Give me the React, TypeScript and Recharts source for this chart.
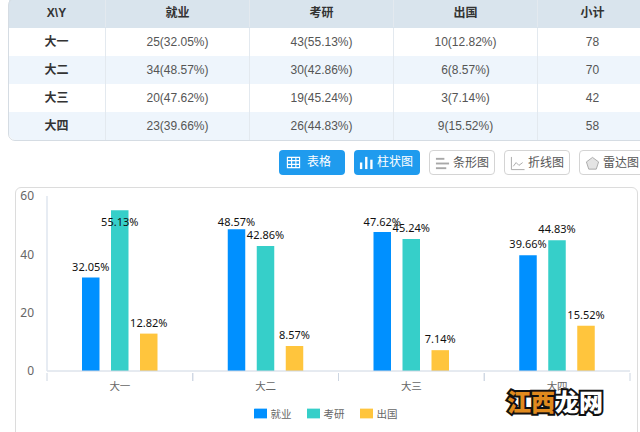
import { Bar, BarChart, LabelList, Legend, XAxis, YAxis } from "recharts";

// 表格和图表的数据
const grades = ["大一", "大二", "大三", "大四"];
const seriesNames = ["就业", "考研", "出国"];
const seriesColors = ["#0090ff", "#36cfc9", "#ffc53d"];
const employCounts = [25, 34, 20, 23];
const employPercents = [32.05, 48.57, 47.62, 39.66];
const studyCounts = [43, 30, 19, 26];
const studyPercents = [55.13, 42.86, 45.24, 44.83];
const abroadCounts = [10, 6, 3, 9];
const abroadPercents = [12.82, 8.57, 7.14, 15.52];
const totals = [78, 70, 42, 58];
const yTicks = [0, 20, 40, 60];
const buttonNames = ["表格", "柱状图", "条形图", "折线图", "雷达图"];

const chartData = grades.map((name, i) => ({
  name,
  employ: employPercents[i],
  study: studyPercents[i],
  abroad: abroadPercents[i],
}));

const font = "'Liberation Sans', 'Noto Sans CJK SC', sans-serif";
const chartFont = "'Noto Sans', 'Noto Sans CJK SC', sans-serif";
const colLefts = [8, 105, 249, 393, 537];
const colWidths = [97, 144, 144, 144, 110];
const rowTops = [28, 56, 84, 112];

function Cell({ left, width, top, height, bold, children }: any) {
  return (
    <div
      style={{
        position: "absolute",
        left,
        width,
        top,
        height,
        lineHeight: height + "px",
        textAlign: "center",
        fontSize: 12,
        fontWeight: bold ? 700 : 400,
        color: bold ? "#333" : "#555",
        borderLeft: left > 8 ? "1px solid #e3e9ef" : "none",
        boxSizing: "border-box",
      }}
    >
      {children}
    </div>
  );
}

function ResultTable() {
  const header = ["X\\Y", ...seriesNames, "小计"];
  return (
    <div>
      <div style={{ position: "absolute", left: 9, top: 0, width: 631, height: 28, background: "#d9e4ed" }} />
      <div style={{ position: "absolute", left: 9, top: 56, width: 631, height: 28, background: "#eef5fc" }} />
      <div style={{ position: "absolute", left: 9, top: 112, width: 631, height: 28, background: "#eef5fc", borderRadius: "0 0 0 7px" }} />
      <div style={{ position: "absolute", left: 8, top: -2, width: 660, height: 143, borderRadius: 7, border: "1px solid #d5dce3", boxSizing: "border-box" }} />
      {header.map((h, c) => (
        <Cell key={h} left={colLefts[c]} width={colWidths[c]} top={0} height={27} bold>
          {h}
        </Cell>
      ))}
      {grades.map((g, i) => (
        <div key={g}>
          <Cell left={colLefts[0]} width={colWidths[0]} top={rowTops[i]} height={28} bold>
            {g}
          </Cell>
          <Cell left={colLefts[1]} width={colWidths[1]} top={rowTops[i]} height={28}>
            {employCounts[i]}({employPercents[i]}%)
          </Cell>
          <Cell left={colLefts[2]} width={colWidths[2]} top={rowTops[i]} height={28}>
            {studyCounts[i]}({studyPercents[i]}%)
          </Cell>
          <Cell left={colLefts[3]} width={colWidths[3]} top={rowTops[i]} height={28}>
            {abroadCounts[i]}({abroadPercents[i]}%)
          </Cell>
          <Cell left={colLefts[4]} width={colWidths[4]} top={rowTops[i]} height={28}>
            {totals[i]}
          </Cell>
        </div>
      ))}
    </div>
  );
}

// 按钮上的小图标
function ButtonIcon({ index, color }: { index: number; color: string }) {
  const s = { fill: "none", stroke: color, strokeWidth: 1.2 };
  return (
    <svg width={15} height={15} viewBox="0 0 16 16" style={{ position: "absolute", left: index === 0 ? 7 : 5, top: 5 }}>
      {index === 0 && (
        <path d="M1.500 2.500h13v11h-13zM1.500 6h13M1.500 10h13M6 2.500v11M10.500 2.500v11" {...s} />
      )}
      {index === 1 && (
        <g fill={color}>
          <rect x={1} y={8} width={2.500} height={7} />
          <rect x={6.500} y={2} width={2.500} height={13} />
          <rect x={12} y={5} width={2.500} height={10} />
        </g>
      )}
      {index === 2 && (
        <g fill={color}>
          <rect x={1} y={2} width={9} height={2} />
          <rect x={1} y={7} width={14} height={2} />
          <rect x={1} y={12} width={11} height={2} />
        </g>
      )}
      {index === 3 && <path d="M1.500 1v13.500h14M3.500 11l3-4 3 3 4-3" {...s} strokeWidth={1} />}
      {index === 4 && (
        <path d="M8 1.500l6.500 4.800-2.500 7.700h-8L1.500 6.300z" fill="#e4e4e4" stroke={color} strokeWidth={1} />
      )}
    </svg>
  );
}

function Buttons() {
  return (
    <div>
      {buttonNames.map((b, i) => {
        const active = i < 2;
        return (
          <div
            key={b}
            style={{
              position: "absolute",
              left: 279 + i * 75,
              top: 150,
              width: 66,
              height: 25,
              borderRadius: 4,
              background: active ? "#1f9bee" : "#fff",
              border: active ? "none" : "1px solid #d4d4d4",
              boxSizing: "border-box",
              color: active ? "#fff" : "#555",
              fontSize: 12,
            }}
          >
            <ButtonIcon index={i} color={active ? "#fff" : "#a8a8a8"} />
            <span style={{ position: "absolute", left: i === 0 ? 28 : 23, top: 0, lineHeight: "24px", whiteSpace: "nowrap" }}>{b}</span>
          </div>
        );
      })}
    </div>
  );
}

// 数值标签,顶部的柱子标签压到柱子里面
function PercentLabel(props: any) {
  const { x, y, width, value } = props;
  const top = Math.max(y - 7, 46);
  return (
    <text x={x + width / 2} y={top} textAnchor="middle" fontSize={11} fontFamily={chartFont} fill="#111">
      {value}%
    </text>
  );
}

// X 轴刻度画在每个分类的两侧
function GradeTick(props: any) {
  const { x, y, payload } = props;
  const half = payload.offset ?? 72.9;
  const axisY = y - 8;
  return (
    <g>
      <line x1={x - half} x2={x - half} y1={axisY} y2={axisY + 8} stroke="#cdd6e2" />
      <line x1={x + half} x2={x + half} y1={axisY} y2={axisY + 8} stroke="#cdd6e2" />
      <text x={x} y={y + 9} textAnchor="middle" fontSize={10.500} fontFamily={chartFont} fill="#666">
        {payload.value}
      </text>
    </g>
  );
}

function Watermark() {
  const base = {
    position: "absolute" as const,
    top: 384,
    fontSize: 24,
    lineHeight: "34px",
    fontWeight: 900,
    fontFamily: "'Noto Sans CJK SC', sans-serif",
    WebkitTextStroke: "4px #111",
    paintOrder: "stroke fill",
    whiteSpace: "nowrap" as const,
  };
  return (
    <div>
      <div style={{ ...base, left: 507, color: "#e08a1e" }}>江西</div>
      <div style={{ ...base, left: 555, color: "#fff" }}>龙网</div>
    </div>
  );
}

export default function App() {
  const series = [
    { key: "employ", name: seriesNames[0], fill: seriesColors[0] },
    { key: "study", name: seriesNames[1], fill: seriesColors[1] },
    { key: "abroad", name: seriesNames[2], fill: seriesColors[2] },
  ];
  return (
    <div style={{ position: "absolute", left: 0, top: 0, width: 640, height: 432, overflow: "hidden", background: "#fff", fontFamily: font }}>
      <ResultTable />
      <Buttons />
      {/* 图表外框 */}
      <div style={{ position: "absolute", left: 15, top: 187, width: 623, height: 260, border: "1px solid #dcdcdc", borderRadius: 6, boxSizing: "border-box" }} />
      <div style={{ position: "absolute", left: 0, top: 180 }}>
        <BarChart
          width={640}
          height={252}
          data={chartData}
          margin={{ top: 16, right: 10, bottom: 31, left: 0 }}
          barSize={17.5}
          barGap={11.5}
        >
          <XAxis
            dataKey="name"
            interval={0}
            tickSize={8}
            tick={<GradeTick />}
            axisLine={{ stroke: "#cdd6e2" }}
            tickLine={false}
          />
          <YAxis
            width={47}
            domain={[0, 60]}
            ticks={yTicks}
            tickLine={false}
            tickMargin={7}
            tick={{ fontSize: 12, fill: "#666", fontFamily: chartFont }}
            axisLine={{ stroke: "#dfe6ef", strokeWidth: 1.500 }}
          />
          <Legend
            iconType="rect"
            iconSize={13}
            layout="horizontal"
            verticalAlign="middle"
            align="center"
            itemSorter={null}
            wrapperStyle={{ position: "absolute", left: 233, top: 224, width: 200, textAlign: "left" }}
            formatter={(v) => (
              <span style={{ color: "#666", fontSize: 10.500, fontFamily: chartFont, marginRight: 5 }}>{v}</span>
            )}
          />
          {series.map((s) => (
            <Bar key={s.key} dataKey={s.key} name={s.name} fill={s.fill} isAnimationActive={false}>
              <LabelList dataKey={s.key} content={<PercentLabel />} />
            </Bar>
          ))}
        </BarChart>
      </div>
      <Watermark />
    </div>
  );
}
